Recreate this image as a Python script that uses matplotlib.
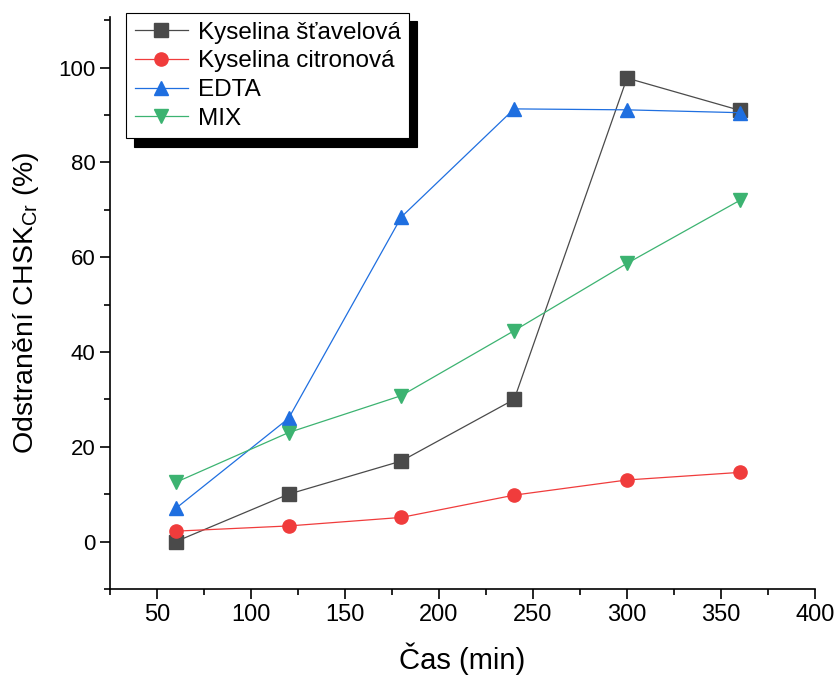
import matplotlib
matplotlib.use("Agg")
import matplotlib.pyplot as plt
from matplotlib.ticker import MultipleLocator

plt.rcParams['font.family'] = ['Liberation Sans', 'DejaVu Sans']
plt.rcParams['mathtext.fontset'] = 'custom'
plt.rcParams['mathtext.rm'] = 'Liberation Sans'
plt.rcParams['mathtext.it'] = 'Liberation Sans:italic'

# Data
cas = [60, 120, 180, 240, 300, 360]
stavelova = [0, 10, 17, 30, 97.8, 91]
citronova = [2.2, 3.3, 5.1, 9.8, 13, 14.6]
edta = [7, 26, 68.5, 91.3, 91.1, 90.5]
mix = [12.5, 23, 30.8, 44.5, 58.7, 72]

labels = ["Kyselina šťavelová", "Kyselina citronová", "EDTA", "MIX"]
colors = ["#4a4a4a", "#f03c3c", "#1f6fe0", "#3cb371"]
markers = ["s", "o", "^", "v"]

fig = plt.figure(figsize=(8.37, 6.78), dpi=100)
ax = fig.add_axes([0.1314, 0.1313, 0.8423, 0.8437])

for y, lab, c, m in zip([stavelova, citronova, edta, mix], labels, colors, markers):
    ax.plot(cas, y, color=c, marker=m, markersize=9.5, linewidth=0.9, label=lab)

ax.set_xlim(25, 400)
ax.set_ylim(-10, 110.7)
ax.xaxis.set_major_locator(MultipleLocator(50))
ax.xaxis.set_minor_locator(MultipleLocator(25))
ax.yaxis.set_major_locator(MultipleLocator(20))
ax.yaxis.set_minor_locator(MultipleLocator(10))
ax.set_xticks([50, 100, 150, 200, 250, 300, 350, 400])
ax.set_yticks([0, 20, 40, 60, 80, 100])

ax.spines['top'].set_visible(False)
ax.spines['right'].set_visible(False)
for s in ['left', 'bottom']:
    ax.spines[s].set_linewidth(1.2)

ax.tick_params(which='major', direction='out', length=7, width=1.2, labelsize=16)
ax.tick_params(which='minor', direction='out', length=4, width=1.2)
ax.tick_params(axis='x', labelsize=17)

ax.set_xlabel("Čas (min)", fontsize=21, labelpad=12)
ax.set_ylabel("Odstranění CHSK$_{\\mathrm{Cr}}$ (%)", fontsize=20.5, labelpad=12)

leg = ax.legend(loc='upper left', bbox_to_anchor=(126 / 837, 1 - 13 / 678),
                bbox_transform=fig.transFigure, borderaxespad=0, fontsize=17.5,
                frameon=True, fancybox=False, edgecolor='black', framealpha=1,
                handlelength=2.2, handletextpad=0.4, labelspacing=0.28,
                borderpad=0.35,
                shadow={'ox': 6, 'oy': -6, 'color': 'black', 'alpha': 1})
leg.get_frame().set_linewidth(0.8)

fig.savefig("out.png", dpi=100)
